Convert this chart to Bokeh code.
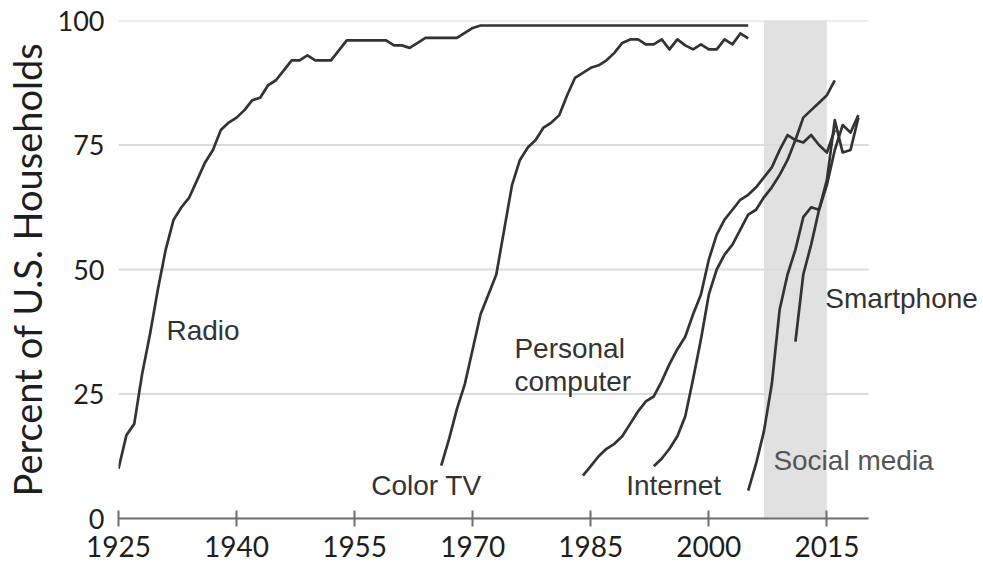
from bokeh.plotting import figure
from bokeh.models import Range1d, FixedTicker, BoxAnnotation, LabelSet, ColumnDataSource
from bokeh.embed import file_html
from bokeh.resources import INLINE
from bokeh.core.properties import value

# ---------------- data ----------------
radio_years = list(range(1925, 2006))
radio = [10, 16.7, 19, 29, 37, 46, 54, 60, 62.5, 64.5,
         68, 71.5, 74, 78, 79.5, 80.5, 82, 84, 84.5, 87,
         88, 90, 92, 92, 93, 92, 92, 92, 94, 96,
         96, 96, 96, 96, 96, 95, 95, 94.5, 95.5, 96.5,
         96.5, 96.5, 96.5, 96.5, 97.5, 98.5, 99, 99, 99, 99,
         99, 99, 99, 99, 99, 99, 99, 99, 99, 99,
         99, 99, 99, 99, 99, 99, 99, 99, 99, 99,
         99, 99, 99, 99, 99, 99, 99, 99, 99, 99,
         99]

colortv_years = list(range(1966, 2006))
colortv = [10.6, 16, 22, 27, 34, 41, 45, 49, 58, 67,
           72, 74.5, 76, 78.5, 79.5, 81, 85, 88.5, 89.5, 90.5,
           91, 92, 93.5, 95.5, 96.2, 96.2, 95.2, 95.2, 96.2, 94.2,
           96.2, 95, 94.2, 95.2, 94.2, 94.2, 96.2, 95.2, 97.4, 96.4]

pc_years = list(range(1984, 2017))
pc = [8.6, 10.5, 12.5, 14, 15, 16.5, 19, 21.5, 23.5, 24.5,
      27.5, 31, 34, 36.5, 41, 45, 52, 57, 60, 62,
      64, 65, 66.5, 68.5, 70.5, 74, 77, 76, 75.5, 77,
      75, 73.5, 78]

internet_years = list(range(1993, 2017))
internet = [10.5, 12, 14, 16.5, 20.5, 28, 36, 45, 50, 53,
            55, 58, 61, 62, 64.5, 66.5, 69, 72, 76, 80.5,
            82, 83.5, 85, 88]

social_years = list(range(2005, 2020))
social = [5.6, 11, 17.5, 27, 42, 49, 54, 60.5, 62.5, 62,
          68, 80, 73.5, 74, 80.5]

smartphone_years = list(range(2011, 2020))
smartphone = [35.5, 49, 55, 62, 67, 74, 79, 77.5, 81]

x_ticks = [1925, 1940, 1955, 1970, 1985, 2000, 2015]
y_ticks = [0, 25, 50, 75, 100]
x_axis_start = 1925
x_axis_end = 2020.3

shade_start = 2007
shade_end = 2015

label_texts = ["Radio", "Color TV", "Personal", "computer", "Internet", "Social media", "Smartphone"]
label_x = [1931.1, 1957.1, 1975.3, 1975.3, 1989.5, 2008.2, 2014.8]
label_y = [37.8, 6.6, 34.1, 27.5, 6.6, 11.6, 44.2]
label_colors = ["#333333", "#333333", "#333333", "#333333", "#333333", "#555555", "#333333"]

# ---------------- figure ----------------
# frame runs to the right edge so labels are not clipped; axis/grid are bounded
p = figure(width=980, height=575, output_backend="svg", toolbar_location=None,
           x_range=Range1d(1925, 2034.26), y_range=Range1d(0, 100),
           min_border_left=117, min_border_right=2,
           min_border_top=20, min_border_bottom=57)
p.outline_line_color = None
p.background_fill_color = "white"
p.border_fill_color = "white"

shade = BoxAnnotation(left=shade_start, right=shade_end, fill_color="#e1e1e1",
                      fill_alpha=1.0, line_color=None, level="image")
p.add_layout(shade)

p.xgrid.grid_line_color = None
p.ygrid.grid_line_color = None

# horizontal grid lines, limited to the axis extent
p.segment(x0=[x_axis_start] * len(y_ticks), x1=[x_axis_end] * len(y_ticks),
          y0=y_ticks, y1=y_ticks, line_color="#dcdcdc", line_width=2, level="underlay")

tick_font = "Lato"
p.xaxis.ticker = FixedTicker(ticks=x_ticks)
p.xaxis.bounds = (x_axis_start, x_axis_end)
p.xaxis.axis_line_color = "#6e6e6e"
p.xaxis.axis_line_width = 2
p.xaxis.major_tick_line_color = "#6e6e6e"
p.xaxis.major_tick_line_width = 2
p.xaxis.major_tick_in = 8
p.xaxis.major_tick_out = 8
p.xaxis.minor_tick_line_color = None
p.xaxis.major_label_text_font = tick_font
p.xaxis.major_label_text_font_size = "28px"
p.xaxis.major_label_text_color = "#1e1e1e"
p.xaxis.major_label_standoff = 9

p.yaxis.ticker = FixedTicker(ticks=y_ticks)
p.yaxis.axis_line_color = None
p.yaxis.major_tick_line_color = None
p.yaxis.minor_tick_line_color = None
p.yaxis.major_tick_in = 0
p.yaxis.major_tick_out = 0
p.yaxis.major_label_text_font = tick_font
p.yaxis.major_label_text_font_size = "27px"
p.yaxis.major_label_text_color = "#1e1e1e"
p.yaxis.major_label_standoff = 14
p.yaxis.axis_label = "Percent of U.S. Households"
p.yaxis.axis_label_text_font = tick_font
p.yaxis.axis_label_text_font_size = "38px"
p.yaxis.axis_label_text_font_style = "normal"
p.yaxis.axis_label_text_color = "#1e1e1e"
p.yaxis.axis_label_standoff = 5

line_kw = dict(line_color="#333333", line_width=2.7, line_join="round")
p.line(radio_years, radio, **line_kw)
p.line(colortv_years, colortv, **line_kw)
p.line(pc_years, pc, **line_kw)
p.line(internet_years, internet, **line_kw)
p.line(social_years, social, **line_kw)
p.line(smartphone_years, smartphone, **line_kw)

label_src = ColumnDataSource(dict(x=label_x, y=label_y, text=label_texts, color=label_colors))
labels = LabelSet(x="x", y="y", text="text", source=label_src, text_color="color",
                  text_font=value("Liberation Sans"), text_font_size=value("28px"),
                  text_align="left", text_baseline="middle")
p.add_layout(labels)

open("out.html", "w").write(file_html(p, INLINE))
